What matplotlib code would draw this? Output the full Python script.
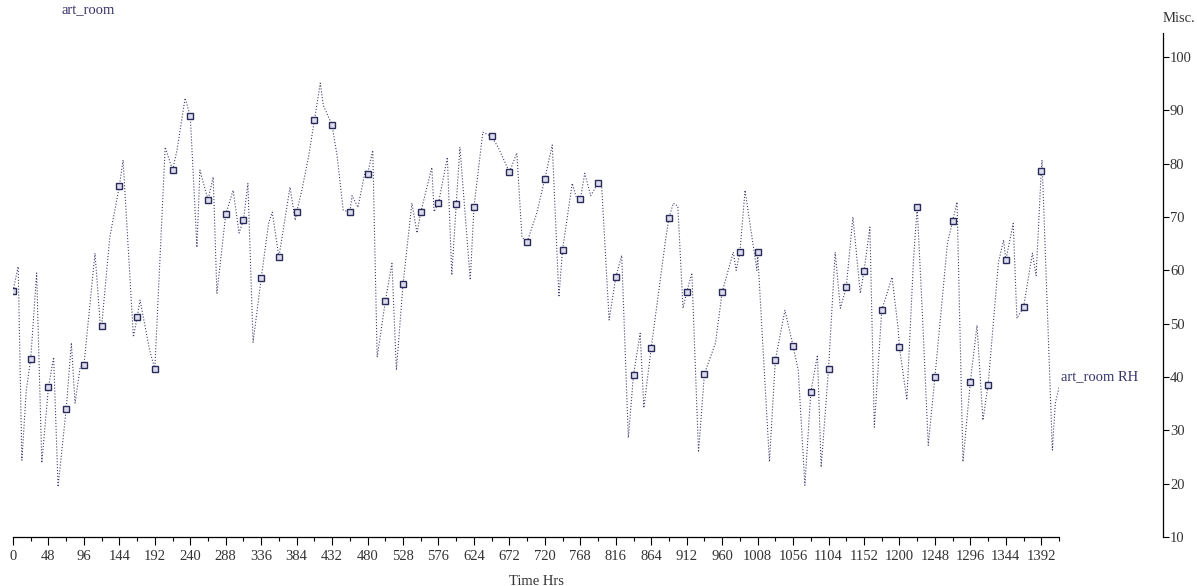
import numpy as np
import matplotlib
matplotlib.use("Agg")
import matplotlib.pyplot as plt
from matplotlib.ticker import MultipleLocator

# daily marker readings (every 24 hrs)
marker_hours = list(range(0, 1393, 24))
marker_vals = [
    56.1, 43.4, 38.1, 34.0, 42.2, 49.5, 75.8, 51.2, 41.5, 78.8,
    88.9, 73.2, 70.5, 69.4, 58.5, 62.5, 70.9, 88.1, 87.2, 70.9,
    78.0, 54.2, 57.4, 70.9, 72.6, 72.4, 71.8, 85.1, 78.4, 65.3,
    77.2, 63.9, 73.3, 76.4, 58.7, 40.4, 45.5, 69.9, 55.9, 40.6,
    55.9, 63.4, 63.4, 43.2, 45.8, 37.1, 41.5, 56.8, 59.8, 52.5,
    45.6, 71.9, 40.0, 69.2, 39.1, 38.5, 61.9, 53.1, 78.7,
]

# peaks and troughs between the markers
turn_hours = [
    7, 12, 18, 32, 39, 55, 61, 79, 84, 91, 111, 118, 131, 149, 163, 172,
    185, 206, 222, 233, 249, 253, 271, 276, 298, 306, 318, 325, 346, 351,
    375, 382, 391, 400, 416, 420, 439, 447, 459, 467, 477, 487, 493, 513,
    519, 540, 547, 567, 570, 588, 594, 605, 619, 636, 657, 682, 689, 700,
    709, 730, 739, 757, 763, 774, 782, 797, 807, 824, 833, 849, 854, 883,
    894, 900, 907, 919, 928, 951, 975, 979, 991, 1007, 1024, 1045, 1063,
    1072, 1089, 1094, 1113, 1120, 1137, 1147, 1160, 1166, 1190, 1198, 1210,
    1219, 1231, 1239, 1265, 1278, 1286, 1305, 1313, 1334, 1341, 1354, 1359,
    1380, 1385, 1393, 1407, 1411, 1416,
]
turn_vals = [
    60.7, 24.4, 37.5, 59.5, 23.9, 43.7, 19.4, 46.4, 35.1, 41.9, 63.2, 50.1,
    66.2, 80.7, 47.5, 54.4, 45.0, 83.1, 82.5, 92.3, 64.3, 78.8, 77.5, 55.7,
    75.0, 67.0, 76.3, 46.5, 68.8, 70.9, 75.6, 69.4, 75.0, 81.2, 95.1, 91.0,
    81.2, 71.3, 74.0, 71.8, 78.8, 82.5, 43.7, 61.3, 41.3, 72.6, 67.0, 79.3,
    71.0, 81.2, 59.1, 83.1, 58.2, 85.9, 83.0, 82.0, 66.2, 67.0, 70.7, 83.5,
    55.0, 76.3, 73.5, 78.2, 74.0, 75.5, 50.7, 62.8, 28.6, 48.2, 34.2, 65.3,
    72.6, 72.0, 52.9, 59.5, 25.9, 46.4, 63.4, 60.0, 75.0, 60.0, 24.1, 52.5,
    41.3, 19.7, 44.1, 23.1, 63.4, 52.9, 70.0, 55.7, 68.1, 30.6, 58.7, 49.4,
    35.7, 61.9, 52.0, 27.2, 65.1, 72.8, 24.1, 49.7, 31.9, 61.5, 65.7, 68.8,
    51.0, 63.2, 59.0, 80.7, 26.3, 35.1, 38.0,
]

hrs = np.array(marker_hours + turn_hours)
vals = np.array(marker_vals + turn_vals)
order = np.argsort(hrs, kind="stable")
hrs, vals = hrs[order], vals[order]

navy = "#34346a"
font = "Liberation Serif"

fig = plt.figure(figsize=(11.97, 5.86), dpi=100)
ax = fig.add_axes([13 / 1197, 49 / 586, 1046 / 1197, 504 / 586])

ax.plot(hrs, vals, linestyle=":", linewidth=0.8, color="#40406e")
ax.plot(marker_hours, marker_vals, linestyle="none", marker="s", markersize=4,
        markerfacecolor="#dcdcec", markeredgecolor="#2a2a5a", markeredgewidth=1.0)

ax.set_xlim(0, 1416)
ax.set_ylim(10, 104.5)

for s in ["top", "left"]:
    ax.spines[s].set_visible(False)
ax.spines["right"].set_position(("axes", 1150 / 1046))
ax.spines["bottom"].set_linewidth(0.9)
ax.spines["right"].set_linewidth(0.9)

ax.xaxis.set_major_locator(MultipleLocator(48))
ax.xaxis.set_minor_locator(MultipleLocator(24))
ax.set_xticks(list(range(0, 1393, 48)))
ax.tick_params(axis="x", which="major", length=6, width=0.8, direction="out",
               labelsize=10.5, pad=3, labelcolor="#333333")
ax.tick_params(axis="x", which="minor", length=3, width=0.8, direction="out")

ax.yaxis.tick_right()
ax.set_yticks(list(range(10, 101, 10)))
ax.tick_params(axis="y", which="major", length=4, width=0.8, direction="out",
               labelsize=10.5, pad=1, labelcolor="#333333")

for lab in ax.get_xticklabels() + ax.get_yticklabels():
    lab.set_fontfamily(font)

ax.set_xlabel("Time Hrs", fontfamily=font, fontsize=10.5, color="#333333",
              labelpad=6)
ax.xaxis.set_label_coords(523 / 1046, -0.075)

fig.text(62 / 1197, 1 - 11 / 586, "art_room", fontfamily=font, fontsize=10.5,
         color=navy, ha="left", va="center")
fig.text(1163 / 1197, 1 - 18 / 586, "Misc.", fontfamily=font, fontsize=10.5,
         color="#333333", ha="left", va="center")
ax.text(1419, 40, "art_room RH", fontfamily=font, fontsize=10.5, color=navy,
        ha="left", va="center", clip_on=False)

fig.savefig("out.png", dpi=100, facecolor="white")
